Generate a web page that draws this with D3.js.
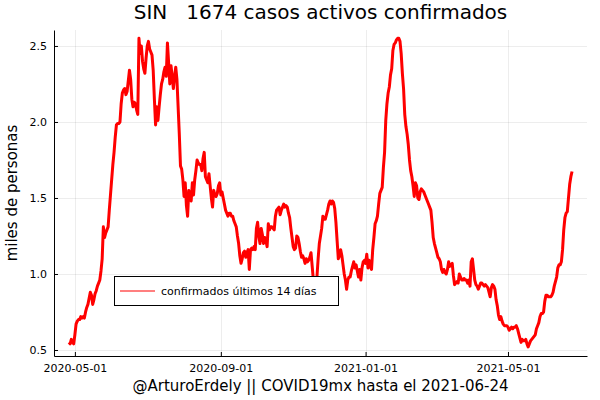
<!DOCTYPE html>
<html>
<head>
<meta charset="utf-8">
<script src="https://cdn.jsdelivr.net/npm/d3@7"></script>
<style>
  html, body { margin: 0; padding: 0; background: #fff; }
  svg { display: block; }
  text { font-family: "DejaVu Sans", sans-serif; fill: #000; }
</style>
</head>
<body>
<div id="chart"></div>
<script>
// ---- data ----
const titleText = "SIN   1674 casos activos confirmados";
const xLabel = "@ArturoErdely || COVID19mx hasta el 2021-06-24";
const yLabel = "miles de personas";
const seriesName = "confirmados últimos 14 días";
const startDate = "2020-04-26";
const xTickLabels = ["2020-05-01", "2020-09-01", "2021-01-01", "2021-05-01"];
const yTickValues = [0.5, 1.0, 1.5, 2.0, 2.5];
// daily active confirmed cases (thousands), from startDate
const activos = [
  0.55,0.54,0.57,0.55,0.54,0.60,
  0.67,0.69,0.70,0.70,0.72,0.71,0.72,0.71,0.75,0.78,0.80,0.84,0.88,0.86,
  0.80,0.83,0.87,0.89,0.92,0.94,0.96,1.02,1.10,1.31,1.24,1.27,1.29,1.31,
  1.42,1.52,1.62,1.72,1.80,1.90,1.98,1.99,1.99,2.00,2.12,2.19,2.21,2.22,
  2.18,2.20,2.27,2.34,2.28,2.15,2.10,2.13,2.12,2.08,2.05,2.55,2.45,2.50,2.40,2.35,
  2.32,2.42,2.50,2.53,2.48,2.46,2.44,2.34,2.15,1.98,2.10,2.01,2.10,2.18,2.25,2.28,
  2.33,2.36,2.30,2.52,2.39,2.25,2.37,2.30,2.22,2.30,2.36,2.28,2.10,1.92,1.71,1.69,
  1.62,1.51,1.60,1.45,1.38,1.55,1.50,1.48,1.60,1.52,1.62,1.68,1.75,1.73,1.72,1.72,
  1.68,1.76,1.80,1.64,1.62,1.60,1.66,1.58,1.50,1.44,1.55,1.52,1.51,1.53,1.58,1.60,
  1.52,1.54,1.50,1.46,1.42,1.40,1.38,1.40,1.40,1.38,1.38,1.35,
  1.33,1.31,1.25,1.20,1.12,1.07,1.10,1.14,1.15,1.11,1.14,1.16,1.03,1.16,1.17,1.16,1.18,1.16,
  1.30,1.34,1.25,1.20,1.30,1.26,1.20,1.24,1.22,1.18,1.33,1.29,1.31,1.31,1.30,1.29,
  1.38,1.42,1.43,1.44,1.39,1.42,1.44,1.46,1.44,1.45,1.44,1.40,1.37,1.30,1.24,1.18,
  1.16,1.17,1.25,1.24,1.20,1.15,1.11,1.12,1.10,1.07,1.10,1.08,1.09,1.11,1.14,1.05,
  0.96,0.93,0.95,0.98,1.10,1.20,
  1.25,1.30,1.38,1.36,1.36,1.39,1.42,1.46,1.48,1.46,1.48,1.47,1.43,1.34,1.22,1.10,
  1.12,1.16,1.12,1.06,1.00,0.96,0.90,0.96,0.98,0.98,1.02,1.05,1.08,1.04,1.06,1.02,
  0.98,1.03,0.96,1.04,1.08,1.09,1.07,1.13,1.04,1.09,1.05,1.03,1.16,1.24,1.33,1.35,
  1.38,1.46,1.53,1.55,1.57,1.70,1.80,2.01,2.12,2.19,2.23,2.31,2.35,2.47,2.51,2.52,
  2.54,2.55,2.55,
  2.53,2.45,2.32,2.22,2.05,1.97,1.92,1.85,1.75,1.68,1.64,1.58,1.51,1.60,1.58,1.50,
  1.49,1.54,1.56,1.55,1.54,1.52,1.50,1.48,1.46,1.44,1.42,1.34,1.24,1.20,1.17,1.14,
  1.11,1.10,1.08,1.03,1.01,1.03,1.01,1.00,1.03,1.08,1.05,1.06,1.07,0.99,0.93,0.94,
  0.95,0.94,1.00,0.98,0.96,0.96,0.97,0.96,0.96,0.94,0.96,0.92,1.08,1.10,1.03,0.96,
  0.93,0.92,0.90,0.92,0.94,0.94,0.93,0.92,0.93,0.92,0.91,0.88,
  0.85,0.91,0.93,0.92,0.90,0.83,0.79,0.73,0.70,0.72,0.69,0.67,0.66,0.66,0.66,0.65,
  0.63,0.64,0.65,0.64,0.65,0.65,0.66,0.64,0.61,0.58,0.55,0.57,0.56,0.56,0.57,0.54,
  0.52,0.54,0.56,0.57,0.58,0.59,0.60,0.64,0.66,0.68,0.72,0.74,0.74,0.75,0.82,0.86,
  0.86,0.85,0.85,0.85,0.86,0.88,0.92,0.95,0.98,1.04,1.06,1.06,1.08,1.16,1.29,1.37,
  1.40,1.41,1.50,1.59,1.64,1.674
];

// ---- layout ----
const W = 600, H = 400;
const plot = { left: 54, right: 587, top: 30, bottom: 356 };

const parse = d3.utcParse("%Y-%m-%d");
const start = parse(startDate);
const series = activos.map((v, i) => ({ date: d3.utcDay.offset(start, i), value: v }));

const DAY = 864e5;
const firstDate = series[0].date, lastDate = series[series.length - 1].date;
const pad = 12.6 * DAY;
const x = d3.scaleUtc()
  .domain([new Date(+firstDate - pad), new Date(+lastDate + pad)])
  .range([plot.left, plot.right]);
const y = d3.scaleLinear()
  .domain([0.4605, 2.605])
  .range([plot.bottom, plot.top]);

const svg = d3.select("#chart").append("svg")
  .attr("width", W).attr("height", H);
svg.append("rect").attr("width", W).attr("height", H).attr("fill", "#fff");

const xTickDates = xTickLabels.map(parse);

// grid
const grid = svg.append("g").attr("stroke", "#000").attr("stroke-opacity", 0.07).attr("stroke-width", 1);
grid.selectAll("line.vx").data(xTickDates).join("line")
  .attr("x1", d => Math.round(x(d)) + 0.5).attr("x2", d => Math.round(x(d)) + 0.5)
  .attr("y1", plot.top).attr("y2", plot.bottom);
grid.selectAll("line.hy").data(yTickValues).join("line")
  .attr("y1", d => Math.round(y(d)) + 0.5).attr("y2", d => Math.round(y(d)) + 0.5)
  .attr("x1", plot.left).attr("x2", plot.right);

// axes
const xAxis = d3.axisBottom(x).tickValues(xTickDates).tickFormat(d3.utcFormat("%Y-%m-%d"))
  .tickSizeInner(-4).tickSizeOuter(0).tickPadding(8);
const gx = svg.append("g").attr("transform", `translate(0,${plot.bottom})`).call(xAxis);
const yAxis = d3.axisLeft(y).tickValues(yTickValues).tickFormat(d3.format(".1f"))
  .tickSizeInner(-4).tickSizeOuter(0).tickPadding(7);
const gy = svg.append("g").attr("transform", `translate(${plot.left},0)`).call(yAxis);
[gx, gy].forEach(g => {
  g.select(".domain").attr("stroke", "#000").attr("stroke-width", 1);
  g.selectAll(".tick line").attr("stroke", "#000");
  g.selectAll(".tick text").attr("font-family", "DejaVu Sans").attr("font-size", 11).attr("fill", "#000");
});

// line
const line = d3.line().x(d => x(d.date)).y(d => y(d.value)).curve(d3.curveLinear);
svg.append("path").datum(series)
  .attr("fill", "none").attr("stroke", "#ff0000").attr("stroke-width", 3)
  .attr("stroke-linejoin", "round")
  .attr("d", line);

// legend
const lg = svg.append("g");
lg.append("rect").attr("x", 114.5).attr("y", 276.5).attr("width", 224).attr("height", 29)
  .attr("fill", "#fff").attr("stroke", "#000").attr("stroke-width", 1);
lg.append("line").attr("x1", 120).attr("x2", 155).attr("y1", 291).attr("y2", 291)
  .attr("stroke", "#ff0000").attr("stroke-width", 1.2);
lg.append("text").attr("x", 161).attr("y", 295).attr("font-size", 11).text(seriesName);

// title and labels
const cx = (plot.left + plot.right) / 2;
svg.append("text").attr("x", cx).attr("y", 19).attr("text-anchor", "middle")
  .attr("font-size", 20).style("white-space", "pre").attr("xml:space", "preserve").text(titleText);
svg.append("text").attr("x", cx).attr("y", 391).attr("text-anchor", "middle")
  .attr("font-size", 15).text(xLabel);
svg.append("text").attr("transform", `translate(17,${(plot.top + plot.bottom) / 2}) rotate(-90)`)
  .attr("text-anchor", "middle").attr("font-size", 15).text(yLabel);
</script>
</body>
</html>
